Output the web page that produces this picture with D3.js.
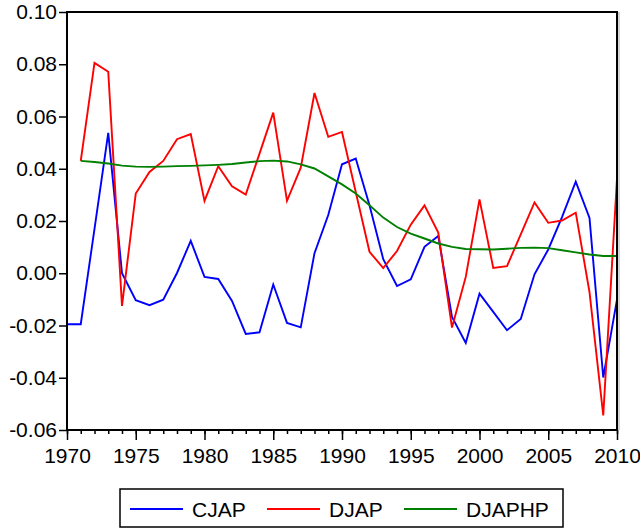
<!DOCTYPE html>
<html>
<head>
<meta charset="utf-8">
<script src="https://cdn.jsdelivr.net/npm/d3@7"></script>
<style>
  body { margin: 0; background: #fff; }
  svg { display: block; }
  text { font-family: "Liberation Sans", Arial, sans-serif; }
</style>
</head>
<body>
<div id="chart"></div>
<script>
// years 1970..2010
const years = [1970, 1971, 1972, 1973, 1974, 1975, 1976, 1977, 1978, 1979,
               1980, 1981, 1982, 1983, 1984, 1985, 1986, 1987, 1988, 1989,
               1990, 1991, 1992, 1993, 1994, 1995, 1996, 1997, 1998, 1999,
               2000, 2001, 2002, 2003, 2004, 2005, 2006, 2007, 2008, 2009, 2010];

// CJAP: 1970..2010
const cjap = [-0.0195, -0.0195, 0.017, 0.0537, 0.0000, -0.0103, -0.0122, -0.0101, 0.0001, 0.0124,
              -0.0014, -0.0022, -0.0106, -0.0232, -0.0226, -0.0043, -0.0190, -0.0207, 0.0077, 0.0223,
              0.0417, 0.0439, 0.0260, 0.0054, -0.0049, -0.0023, 0.0101, 0.0143, -0.0167, -0.0267,
              -0.0078, -0.0148, -0.0218, -0.0175, -0.0004, 0.0091, 0.0215, 0.0351, 0.0212, -0.0399, -0.0101];

// DJAP: 1971..2010
const djap = [0.0430, 0.0805, 0.0771, -0.0125, 0.0305, 0.0388, 0.0430, 0.0513, 0.0533,
              0.0277, 0.0410, 0.0333, 0.0301, 0.0458, 0.0615, 0.0277, 0.0404, 0.0690, 0.0522,
              0.0541, 0.0311, 0.0082, 0.0020, 0.0085, 0.0186, 0.0260, 0.0156, -0.0208, -0.0014,
              0.0283, 0.0020, 0.0027, 0.0149, 0.0271, 0.0193, 0.0202, 0.0232, -0.0072, -0.0544, 0.0362];

// DJAPHP: 1971..2010
const djaphp = [0.0430, 0.0426, 0.0420, 0.0412, 0.0408, 0.0407, 0.0408, 0.0410, 0.0411,
                0.0413, 0.0415, 0.0418, 0.0424, 0.0429, 0.0431, 0.0428, 0.0417, 0.0401, 0.0371,
                0.0340, 0.0305, 0.0260, 0.0213, 0.0177, 0.0152, 0.0133, 0.0114, 0.0101, 0.0093,
                0.0092, 0.0091, 0.0094, 0.0097, 0.0098, 0.0096, 0.0088, 0.0080, 0.0072, 0.0066, 0.0066];

const yTicks = [-0.06, -0.04, -0.02, 0.00, 0.02, 0.04, 0.06, 0.08, 0.10];
const xMajor = [1970, 1975, 1980, 1985, 1990, 1995, 2000, 2005, 2010];

const seriesNames = ["CJAP", "DJAP", "DJAPHP"];
const seriesColors = ["#0000ff", "#ff0000", "#008000"];

const width = 640, height = 531;
const margin = {top: 12, right: 23, bottom: 101, left: 67};
const innerW = width - margin.left - margin.right,
      innerH = height - margin.top - margin.bottom;

const svg = d3.select("#chart")
              .append("svg")
              .attr("width", width)
              .attr("height", height);

const g = svg.append("g")
             .attr("transform", `translate(${margin.left}, ${margin.top})`);

const x = d3.scaleLinear()
            .domain([1970, 2010])
            .range([0, innerW]);

const y = d3.scaleLinear()
            .domain([-0.06, 0.10])
            .range([innerH, 0]);

// y axis
const yAxis = g.append("g")
               .call(d3.axisLeft(y)
                       .tickValues(yTicks)
                       .tickSize(8)
                       .tickSizeOuter(0)
                       .tickPadding(2)
                       .tickFormat(d3.format(".2f")));
yAxis.select(".domain").remove();
yAxis.selectAll("line").attr("stroke", "#000").attr("stroke-width", 1.5);
yAxis.selectAll("text")
     .attr("font-size", 21)
     .attr("fill", "#000")
     .text(d => d3.format(".2f")(d).replace("−", "-"));

// x axis: minor ticks every year
const xMinor = g.append("g")
                .attr("transform", `translate(0, ${innerH})`)
                .call(d3.axisBottom(x)
                        .tickValues(years)
                        .tickSize(4)
                        .tickSizeOuter(0)
                        .tickFormat(""));
xMinor.select(".domain").remove();
xMinor.selectAll("line").attr("stroke", "#000").attr("stroke-width", 1.5);

// x axis: major ticks with labels
const xAxis = g.append("g")
               .attr("transform", `translate(0, ${innerH})`)
               .call(d3.axisBottom(x)
                       .tickValues(xMajor)
                       .tickSize(10)
                       .tickSizeOuter(0)
                       .tickPadding(8)
                       .tickFormat(d3.format("d")));
xAxis.select(".domain").remove();
xAxis.selectAll("line").attr("stroke", "#000").attr("stroke-width", 1.5);
xAxis.selectAll("text").attr("font-size", 21).attr("fill", "#000");

// series
const line = d3.line()
               .x(d => x(d[0]))
               .y(d => y(d[1]));

const seriesData = [
  years.map((yr, i) => [yr, cjap[i]]),
  years.slice(1).map((yr, i) => [yr, djap[i]]),
  years.slice(1).map((yr, i) => [yr, djaphp[i]])
];

g.selectAll(".series")
 .data(seriesData)
 .join("path")
 .attr("class", "series")
 .attr("d", line)
 .attr("fill", "none")
 .attr("stroke", (d, i) => seriesColors[i])
 .attr("stroke-width", 1.9)
 .attr("stroke-linejoin", "miter");

// frame
g.append("line")
 .attr("x1", innerW + 2).attr("x2", innerW + 2)
 .attr("y1", 0).attr("y2", innerH)
 .attr("stroke", "#aaa").attr("stroke-width", 1);
g.append("rect")
 .attr("x", 0).attr("y", 0)
 .attr("width", innerW).attr("height", innerH)
 .attr("fill", "none")
 .attr("stroke", "#000")
 .attr("stroke-width", 2);

// legend
const legend = svg.append("g")
                  .attr("transform", "translate(120, 489)");

legend.append("rect")
      .attr("width", 443)
      .attr("height", 38)
      .attr("fill", "#fff")
      .attr("stroke", "#000")
      .attr("stroke-width", 1.5);

const legendX = [10, 147, 284];
const item = legend.selectAll(".item")
                   .data(seriesNames)
                   .join("g")
                   .attr("class", "item")
                   .attr("transform", (d, i) => `translate(${legendX[i]}, 20)`);

item.append("line")
    .attr("x1", 0).attr("x2", 53)
    .attr("stroke", (d, i) => seriesColors[i])
    .attr("stroke-width", 1.9);

item.append("text")
    .attr("x", 62)
    .attr("dy", "0.36em")
    .attr("font-size", 21)
    .attr("fill", "#000")
    .text(d => d);
</script>
</body>
</html>
